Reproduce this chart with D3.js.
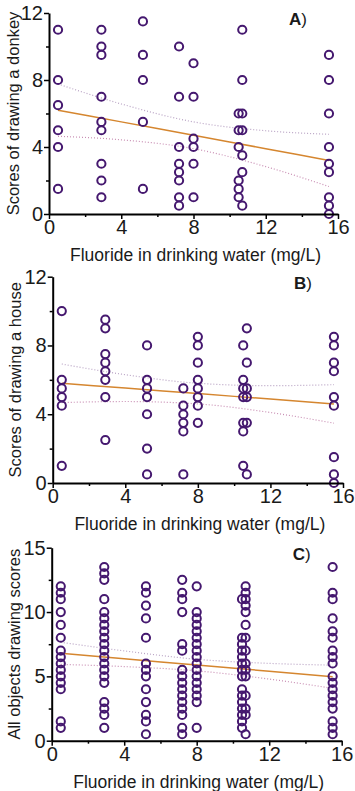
<!DOCTYPE html>
<html>
<head>
<meta charset="UTF-8">
<title>Fluoride and drawing scores</title>
<script src="https://cdnjs.cloudflare.com/ajax/libs/d3/7.8.5/d3.min.js"></script>
<style>
  body { margin: 0; background: #fff; }
  svg text { font-family: "Liberation Sans", Arial, sans-serif; fill: #1a1a1a; }
</style>
</head>
<body>
<div id="chart"></div>
<script>
// fluoride groups (mg/L)
const groupsX = [0.5, 2.9, 5.2, 7.2, 8.0, 10.5, 10.7, 15.5];

// A) donkey scores per group
const donkey = [
  [11, 8, 6.5, 5, 4, 1.5],
  [11, 10, 9.5, 7, 5.5, 5, 3, 2, 1],
  [11.5, 9.5, 8, 5.5, 1.5],
  [10, 7, 4, 3, 2.5, 2, 1, 0.5],
  [9, 7, 4.5, 4, 3, 1],
  [6, 5, 4, 2, 1.5, 1],
  [11, 8, 6, 5, 3.5, 2.5, 0.5],
  [9.5, 8, 6, 4, 3, 2.5, 1, 0.5, 0]
];

// B) house scores per group
const house = [
  [10, 6, 5.5, 5, 4.5, 1],
  [9.5, 9, 7.5, 7, 6.5, 6, 5, 2.5],
  [8, 6, 5.5, 5, 4, 2, 0.5],
  [5.5, 4.5, 4, 3.5, 3, 0.5],
  [8.5, 8, 7, 6, 5.5, 5, 4.5, 3.5],
  [8, 6, 5.5, 5, 3.5, 3, 1],
  [9, 7, 5.5, 5, 3.5, 0.5],
  [8.5, 8, 7, 6.5, 5, 4.5, 1.5, 0.5, 0]
];

// C) all objects scores per group
const allObj = [
  [12, 11.5, 11, 10, 9, 8, 7, 6.5, 6, 5.5, 5, 4.5, 4, 1.5, 1],
  [13.5, 13, 12.5, 11, 10, 9.5, 9, 8.5, 8, 7.5, 7, 6.5, 6, 5.5, 5, 4.5, 3, 2.5, 2, 1],
  [12, 11.5, 10.5, 9.5, 8, 6, 5.5, 5, 4, 3, 2, 1.5, 0.5],
  [12.5, 11.5, 11, 10, 7.5, 7, 5.5, 5, 4.5, 4, 3.5, 3, 2.5, 2, 1, 0.5],
  [12, 10, 9.5, 9, 8.5, 8, 7.5, 7, 6.5, 6, 5.5, 5, 4.5, 4, 3.5, 3, 1],
  [11, 8, 7.5, 7, 6.5, 6, 5.5, 5, 4, 3.5, 3, 2.5, 2, 1.5, 1],
  [12, 11.5, 11, 10.5, 10, 9, 8, 7, 6, 5.5, 5, 3.5, 2.5, 2, 0.5],
  [13.5, 11.5, 11, 9.5, 8.5, 8, 7, 6.5, 6, 5, 4.5, 4, 3.5, 3, 2.5, 1.5, 1, 0.5]
];

// fitted line and 95% band
const fitX = [0.5, 4, 8, 12, 15.5];
const fitA = [6.2, 5.5, 4.7, 3.9, 3.2];
const upA = [7.76, 6.57, 5.5, 4.97, 4.76];
const loA = [4.64, 4.43, 3.9, 2.83, 1.64];
const fitB = [5.8, 5.52, 5.2, 4.88, 4.6];
const upB = [6.92, 6.3, 5.8, 5.66, 5.72];
const loB = [4.68, 4.74, 4.6, 4.1, 3.48];
const fitC = [6.79, 6.37, 5.88, 5.4, 4.97];
const upC = [7.65, 6.98, 6.33, 6.01, 5.87];
const loC = [5.93, 5.76, 5.43, 4.79, 4.07];

const xTicks = [0, 4, 8, 12, 16];
const xMinor = [2, 6, 10, 14];

const W = 355, H = 791;
const svg = d3.select("#chart").append("svg").attr("width", W).attr("height", H);

function panel(o) {
  const x = d3.scaleLinear().domain([0, 16]).range([o.left, o.right]);
  const y = d3.scaleLinear().domain([0, o.ymax]).range([o.bottom, o.top]);
  const g = svg.append("g");

  // band + fit
  const ln = d3.line().x((d, i) => x(fitX[i])).y(d => y(d)).curve(d3.curveMonotoneX);
  g.append("path").attr("d", ln(o.up)).attr("fill", "none")
    .attr("stroke", "#b9a3c4").attr("stroke-width", 1.2).attr("stroke-dasharray", "1,2");
  g.append("path").attr("d", ln(o.lo)).attr("fill", "none")
    .attr("stroke", "#c98fb4").attr("stroke-width", 1.2).attr("stroke-dasharray", "1,2");
  g.append("path").attr("d", ln(o.fit)).attr("fill", "none")
    .attr("stroke", "#d5862f").attr("stroke-width", 1.5);

  // points
  const pts = [];
  o.data.forEach((arr, i) => arr.forEach(v => pts.push([groupsX[i], v])));
  g.selectAll("circle").data(pts).enter().append("circle")
    .attr("cx", d => x(d[0])).attr("cy", d => y(d[1])).attr("r", 4.1)
    .attr("fill", "none").attr("stroke", "#45186f").attr("stroke-width", 2);

  // axes
  const xa = g.append("g").attr("transform", `translate(0,${o.bottom})`)
    .call(d3.axisBottom(x).tickValues(xTicks).tickSize(5).tickPadding(1).tickSizeOuter(0));
  g.append("g").attr("transform", `translate(0,${o.bottom})`)
    .call(d3.axisBottom(x).tickValues(xMinor).tickSize(3).tickFormat("").tickSizeOuter(0))
    .select(".domain").remove();
  const ya = g.append("g").attr("transform", `translate(${o.left},0)`)
    .call(d3.axisLeft(y).tickValues(o.yTicks).tickSize(5).tickPadding(1).tickSizeOuter(0));
  g.append("g").attr("transform", `translate(${o.left},0)`)
    .call(d3.axisLeft(y).tickValues(o.yMinor).tickSize(3).tickFormat("").tickSizeOuter(0))
    .select(".domain").remove();
  g.selectAll(".domain").attr("stroke", "#000").attr("stroke-width", 2);
  g.selectAll(".tick line").attr("stroke", "#000").attr("stroke-width", 1.5);
  xa.selectAll("text").attr("font-size", 20).style("font-family", "Liberation Sans, Arial, sans-serif").style("fill", "#1a1a1a");
  ya.selectAll("text").attr("font-size", 20).style("font-family", "Liberation Sans, Arial, sans-serif").style("fill", "#1a1a1a");

  // titles
  g.append("text").attr("x", (o.left + o.right) / 2 + 2).attr("y", o.bottom + 47)
    .attr("text-anchor", "middle").attr("font-size", 17.5).text("Fluoride in drinking water (mg/L)");
  g.append("text").attr("transform", `translate(${o.ytx},${(o.top + o.bottom) / 2}) rotate(-90)`)
    .attr("text-anchor", "middle").attr("font-size", 16.5).text(o.ytitle);
  g.append("text").attr("x", o.right - 49).attr("y", o.top + 12)
    .attr("font-size", 17).attr("font-weight", "bold").text(o.tag)
    .append("tspan").attr("font-weight", "normal").text(")");
}

panel({left: 49, right: 338, top: 13, bottom: 214, ymax: 12,
  yTicks: [0, 4, 8, 12], yMinor: [2, 6, 10], data: donkey,
  fit: fitA, up: upA, lo: loA, ytitle: "Scores of drawing a donkey", ytx: 19, tag: "A"});
panel({left: 52.7, right: 343, top: 276.7, bottom: 483, ymax: 12,
  yTicks: [0, 4, 8, 12], yMinor: [2, 6, 10], data: house,
  fit: fitB, up: upB, lo: loB, ytitle: "Scores of drawing a house", ytx: 21, tag: "B"});
panel({left: 51.7, right: 341.7, top: 547.7, bottom: 740.7, ymax: 15,
  yTicks: [0, 5, 10, 15], yMinor: [2.5, 7.5, 12.5], data: allObj,
  fit: fitC, up: upC, lo: loC, ytitle: "All objects drawing scores", ytx: 20, tag: "C"});
</script>
</body>
</html>
